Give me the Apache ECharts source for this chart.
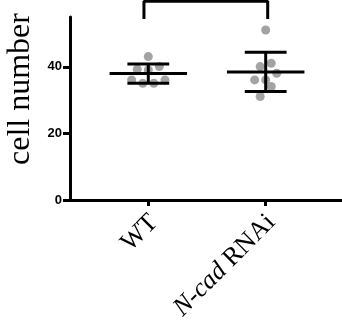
<!DOCTYPE html>
<html>
<head>
<meta charset="utf-8">
<script src="https://cdn.jsdelivr.net/npm/echarts@6/dist/echarts.min.js"></script>
<style>
  html, body { margin: 0; padding: 0; background: #fff; }
  #chart { width: 342px; height: 322px; }
</style>
</head>
<body>
<div id="chart"></div>
<script>
// groups on the x axis (value positions 1 and 2)
const groups = ["WT", "N-cad RNAi"];
const groupPos = [1, 2];

// individual cell counts
const wtValues = [43.1, 39.3, 39.1, 40.1, 36.1, 35.1, 35.1, 36.1];
const wtJitter = [0, -0.094, 0, 0.094, -0.142, -0.047, 0.047, 0.142];
const ncadValues = [51.1, 40.1, 41.1, 38.1, 36.1, 36.1, 34.1, 31.1];
const ncadJitter = [0, -0.047, 0.047, 0.094, -0.094, 0, 0.047, -0.047];

// mean and SD limits
const means = [38.0, 38.5];
const sdLow = [35.1, 32.6];
const sdHigh = [40.9, 44.4];

// significance bracket
const bracketX = [0.963, 2.017];
const bracketY = [54.4, 59.7];

const yTicks = [0, 20, 40];

const chart = echarts.init(document.getElementById("chart"));

const points = [];
wtValues.forEach((v, i) => points.push([groupPos[0] + wtJitter[i], v]));
ncadValues.forEach((v, i) => points.push([groupPos[1] + ncadJitter[i], v]));

const bars = groupPos.map((p, i) => [p, means[i], sdLow[i], sdHigh[i]]);

chart.setOption({
    backgroundColor: "#fff",
    animation: false,
    grid: { left: 70, right: 0, top: 17, bottom: 122, outerBoundsMode: "none" },
    xAxis: {
        type: "value",
        min: 0.333,
        max: 2.65,
        splitLine: { show: false },
        axisLine: { show: true, lineStyle: { color: "#000", width: 3 } },
        axisTick: { show: true, customValues: groupPos, length: 6, lineStyle: { color: "#000", width: 3 } },
        axisLabel: {
            customValues: groupPos,
            rotate: 45,
            margin: 13,
            padding: [16, 0, 0, 0],
            color: "#000",
            fontFamily: "Liberation Serif",
            fontSize: 26,
            formatter: v => v === 1 ? groups[0] : "{i|N-cad} RNAi",
            rich: { i: { fontStyle: "italic", fontFamily: "Liberation Serif", fontSize: 26, color: "#000" } }
        }
    },
    yAxis: {
        type: "value",
        min: 0,
        max: 55,
        interval: 20,
        splitLine: { show: false },
        axisLine: { show: true, lineStyle: { color: "#000", width: 3 } },
        axisTick: { show: true, customValues: yTicks, length: 7, lineStyle: { color: "#000", width: 3 } },
        axisLabel: {
            customValues: yTicks,
            margin: 8,
            color: "#000",
            fontFamily: "Liberation Sans",
            fontWeight: "bold",
            fontSize: 13
        }
    },
    graphic: [{
        type: "text",
        x: 37,
        y: 89,
        rotation: Math.PI / 2,
        style: {
            text: "cell number",
            fontFamily: "Liberation Serif",
            fontSize: 32,
            fill: "#000",
            align: "center",
            verticalAlign: "bottom"
        }
    }],
    series: [
        {
            type: "scatter",
            data: points,
            symbolSize: 9,
            itemStyle: { color: "#8c8c8c" },
            z: 2
        },
        {
            type: "custom",
            data: bars,
            z: 3,
            renderItem: (params, api) => {
                const x = api.value(0);
                const m = api.coord([x, api.value(1)]);
                const lo = api.coord([x, api.value(2)]);
                const hi = api.coord([x, api.value(3)]);
                const mw = api.coord([x + 0.33, 0])[0] - m[0];
                const cw = api.coord([x + 0.178, 0])[0] - m[0];
                const st = { stroke: "#000", lineWidth: 3 };
                return {
                    type: "group",
                    children: [
                        { type: "line", shape: { x1: m[0] - mw, y1: m[1], x2: m[0] + mw, y2: m[1] }, style: st },
                        { type: "line", shape: { x1: lo[0], y1: lo[1], x2: hi[0], y2: hi[1] }, style: st },
                        { type: "line", shape: { x1: hi[0] - cw, y1: hi[1], x2: hi[0] + cw, y2: hi[1] }, style: st },
                        { type: "line", shape: { x1: lo[0] - cw, y1: lo[1], x2: lo[0] + cw, y2: lo[1] }, style: st }
                    ]
                };
            }
        },
        {
            type: "line",
            data: [
                [bracketX[0], bracketY[0]],
                [bracketX[0], bracketY[1]],
                [bracketX[1], bracketY[1]],
                [bracketX[1], bracketY[0]]
            ],
            clip: false,
            symbol: "none",
            lineStyle: { color: "#000", width: 3 },
            z: 3
        }
    ]
});
</script>
</body>
</html>
